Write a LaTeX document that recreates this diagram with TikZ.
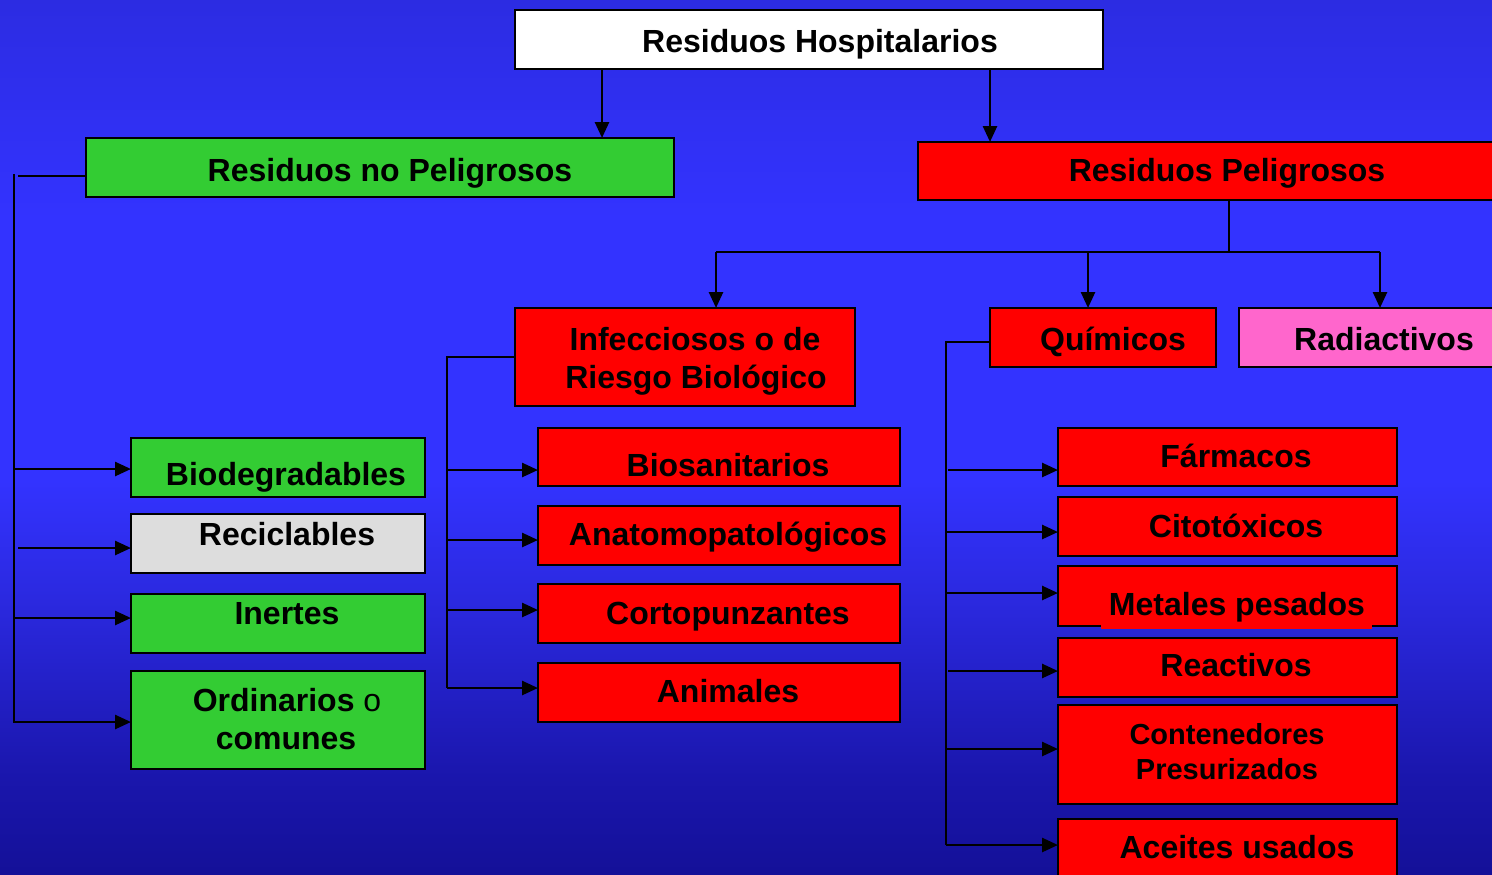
\documentclass[tikz,border=0pt]{standalone}
\usepackage{fontspec}
\setmainfont{Liberation Sans}
\usetikzlibrary{arrows.meta,calc}
\definecolor{bgtop}{RGB}{44,44,226}
\definecolor{bgmid}{RGB}{51,51,255}
\definecolor{bgmid2}{RGB}{42,40,220}
\definecolor{bglow}{RGB}{26,22,172}
\definecolor{bgbot}{RGB}{20,16,152}
\definecolor{grn}{RGB}{51,204,51}
\definecolor{rd}{RGB}{255,0,0}
\definecolor{pnk}{RGB}{255,102,204}
\definecolor{gry}{RGB}{221,221,221}
\pgfdeclareverticalshading{bgshade}{100bp}{color(0bp)=(bgbot); color(25bp)=(bgbot); color(30.5bp)=(bglow); color(40bp)=(bgmid2); color(47.5bp)=(bgmid); color(62.5bp)=(bgmid); color(75bp)=(bgtop); color(100bp)=(bgtop)}
\newcommand\mkbox[6]{\node[boxst,#2,minimum width={(#5-#3)*0.5pt},minimum height={(#6-#4)*0.5pt}] (#1) at ({(#3+#5)/2},{(#4+#6)/2}) {};}
\begin{document}
\begin{tikzpicture}[x=0.5pt,y=-0.5pt,
  boxst/.style={rectangle,draw=black,line width=1.4pt,inner sep=0pt,outer sep=0pt},
  lbl/.style={font=\bfseries\fontsize{16}{19}\selectfont,inner sep=0pt,anchor=base,text=black},
  lbls/.style={lbl,font=\bfseries\fontsize{14.5}{17}\selectfont},
  ln/.style={line width=1.3pt},
  arr/.style={ln,-{Triangle[length=8pt,width=7pt]}}]
\useasboundingbox (0,0) rectangle (1492,874);
\clip (0,0) rectangle (1492,874);
\shade[shading=bgshade] (0,0) rectangle (1492,874);
% boxes
\mkbox{hosp}{fill=white}{515}{10}{1103}{69}
\mkbox{nopel}{fill=grn}{86}{138}{674}{197}
\mkbox{pel}{fill=rd}{918}{142}{1540}{200}
\mkbox{inf}{fill=rd}{515}{308}{855}{406}
\mkbox{quim}{fill=rd}{990}{308}{1216}{367}
\mkbox{rad}{fill=pnk}{1239}{308}{1530}{367}
\mkbox{bio}{fill=grn}{131}{438}{425}{497}
\mkbox{rec}{fill=gry}{131}{514}{425}{573}
\mkbox{ine}{fill=grn}{131}{594}{425}{653}
\mkbox{ord}{fill=grn}{131}{671}{425}{769}
\mkbox{bsan}{fill=rd}{538}{428}{900}{486}
\mkbox{anat}{fill=rd}{538}{506}{900}{565}
\mkbox{cort}{fill=rd}{538}{584}{900}{643}
\mkbox{anim}{fill=rd}{538}{663}{900}{722}
\mkbox{farm}{fill=rd}{1058}{428}{1397}{486}
\mkbox{cito}{fill=rd}{1058}{497}{1397}{556}
\mkbox{meta}{fill=rd}{1058}{566}{1397}{626}
\mkbox{reac}{fill=rd}{1058}{638}{1397}{697}
\mkbox{cont}{fill=rd}{1058}{705}{1397}{804}
\mkbox{acei}{fill=rd}{1058}{819}{1397}{880}
\fill[rd] (1101,623.5) rectangle (1372,628.8);
% top connectors
\draw[arr] (602,0 |- hosp.south) -- (602,0 |- nopel.north);
\draw[arr] (990,0 |- hosp.south) -- (990,0 |- pel.north);
\coordinate (pl) at (716,252);
\coordinate (pq) at (1088,252);
\coordinate (pr) at (1380,252);
\draw[ln] (pel.south) -- (pel.south |- pl);
\draw[ln] (pl) -- (pr);
\draw[arr] (pl) -- (pl |- inf.north);
\draw[arr] (pq) -- (pq |- quim.north);
\draw[arr] (pr) -- (pr |- rad.north);
% no peligrosos trunk
\coordinate (nt) at (14,174);
\coordinate (nb) at (14,723);
\draw[ln] (nopel.west |- 0,176) -- (18,176);
\draw[ln] (nt) -- (nb);
\draw[arr] (14,469) -- (bio.west |- 0,469);
\draw[arr] (18,548) -- (rec.west |- 0,548);
\draw[arr] (14,618) -- (ine.west |- 0,618);
\draw[arr] (14,722) -- (ord.west |- 0,722);
% infecciosos trunk
\coordinate (it) at (447,357);
\coordinate (ib) at (447,688);
\draw[ln] (inf.west |- it) -- (it) -- (ib);
\draw[arr] (447,470) -- (bsan.west |- 0,470);
\draw[arr] (447,540) -- (anat.west |- 0,540);
\draw[arr] (447,610) -- (cort.west |- 0,610);
\draw[arr] (ib) -- (anim.west |- ib);
% quimicos trunk
\coordinate (qt) at (946,342);
\coordinate (qb) at (946,845);
\draw[ln] (quim.west |- qt) -- (qt) -- (qb);
\draw[arr] (948,470) -- (farm.west |- 0,470);
\draw[arr] (946,532) -- (cito.west |- 0,532);
\draw[arr] (946,593) -- (meta.west |- 0,593);
\draw[arr] (948,671) -- (reac.west |- 0,671);
\draw[arr] (946,749) -- (cont.west |- 0,749);
\draw[arr] (qb) -- (acei.west |- qb);
% labels
\node[lbl] (hosp-t) at (820,52) {Residuos Hospitalarios};
\node[lbl] (nopel-t) at (390,181) {Residuos no Peligrosos};
\node[lbl] (pel-t) at (1227,181) {Residuos Peligrosos};
\node[lbl] (inf-t1) at (695,350) {Infecciosos o de};
\node[lbl] (inf-t2) at (696,388) {Riesgo Biológico};
\node[lbl] (quim-t) at (1113,350) {Químicos};
\node[lbl] (rad-t) at (1384,350) {Radiactivos};
\node[lbl] (bio-t) at (286,485) {Biodegradables};
\node[lbl] (rec-t) at (287,545) {Reciclables};
\node[lbl] (ine-t) at (287,624) {Inertes};
\node[lbl] (ord-t1) at (287,711) {Ordinarios {\mdseries o}};
\node[lbl] (ord-t2) at (286,749) {comunes};
\node[lbl] (bsan-t) at (728,476) {Biosanitarios};
\node[lbl] (anat-t) at (728,545) {Anatomopatológicos};
\node[lbl] (cort-t) at (728,624) {Cortopunzantes};
\node[lbl] (anim-t) at (728,702) {Animales};
\node[lbl] (farm-t) at (1236,467) {Fármacos};
\node[lbl] (cito-t) at (1236,537) {Citotóxicos};
\node[lbl] (meta-t) at (1237,615) {Metales pesados};
\node[lbl] (reac-t) at (1236,676) {Reactivos};
\node[lbls] (cont-t1) at (1227,744) {Contenedores};
\node[lbls] (cont-t2) at (1227,779) {Presurizados};
\node[lbl] (acei-t) at (1237,858) {Aceites usados};
\end{tikzpicture}
\end{document}
